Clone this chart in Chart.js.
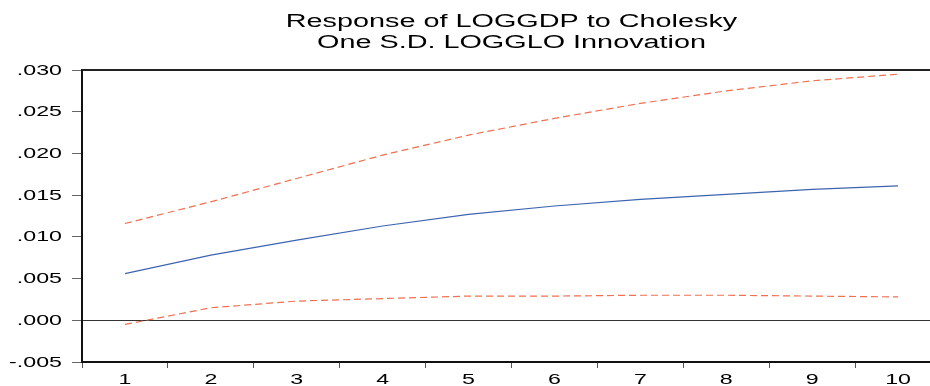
<!DOCTYPE html>
<html>
<head>
<meta charset="utf-8">
<script src="https://cdn.jsdelivr.net/npm/chart.js@4"></script>
<style>
  html, body { margin: 0; padding: 0; background: #fff; overflow: hidden; }
  #wrap { width: 930px; height: 386px; overflow: hidden; position: relative; }
  #irf { position: absolute; left: 0; top: 0; }
</style>
</head>
<body>
<div id="wrap"><canvas id="irf" width="950" height="386"></canvas></div>
<script>
const periods = ['1', '2', '3', '4', '5', '6', '7', '8', '9', '10'];
const response = [0.0056, 0.0078, 0.0096, 0.0113, 0.0127, 0.0137, 0.0145, 0.0151, 0.0157, 0.0161];
const upperBand = [0.0116, 0.0142, 0.0170, 0.0198, 0.0222, 0.0242, 0.0260, 0.0275, 0.0287, 0.0295];
const lowerBand = [-0.0005, 0.0015, 0.0023, 0.0026, 0.0029, 0.0029, 0.0030, 0.0030, 0.0029, 0.0028];
const titleLines = ['Response of LOGGDP to Cholesky', 'One S.D. LOGGLO Innovation'];

const STRETCH = 1.6;
const FONT = '"Liberation Sans", Arial, sans-serif';

function stretchedText(ctx, text, x, y, align, size) {
    ctx.save();
    ctx.translate(x, y);
    ctx.scale(STRETCH, 1);
    ctx.font = size + 'px ' + FONT;
    ctx.textAlign = align;
    ctx.fillStyle = '#000';
    ctx.fillText(text, 0, 0);
    ctx.restore();
}

function fmtTick(v) {
    if (Math.abs(v) < 1e-9) v = 0;
    return v.toFixed(3).replace('0.', '.');
}

const eviewsText = {
    id: 'eviewsText',
    afterDraw(chart) {
        const ctx = chart.ctx;
        const area = chart.chartArea;
        const xs = chart.scales.x, ys = chart.scales.y;

        // top frame line
        ctx.save();
        ctx.strokeStyle = '#222';
        ctx.lineWidth = 2;
        ctx.beginPath();
        ctx.moveTo(area.left, area.top);
        ctx.lineTo(area.right, area.top);
        ctx.stroke();
        ctx.restore();

        const cx = (area.left + area.right) / 2;
        stretchedText(ctx, titleLines[0], cx, 27, 'center', 18);
        stretchedText(ctx, titleLines[1], cx, 48, 'center', 18);

        ctx.save();
        ctx.textBaseline = 'middle';
        ys.ticks.forEach(t => {
            stretchedText(ctx, fmtTick(t.value), 62, ys.getPixelForValue(t.value) + 0.5, 'right', 14.5);
        });
        ctx.restore();

        ctx.save();
        ctx.textBaseline = 'alphabetic';
        periods.forEach((p, i) => {
            stretchedText(ctx, p, xs.getPixelForValue(i), 384, 'center', 14.5);
        });
        ctx.restore();
    }
};

new Chart(document.getElementById('irf'), {
    type: 'line',
    data: {
        labels: periods,
        datasets: [
            {
                label: 'Response',
                data: response,
                borderColor: '#3d64b0',
                borderWidth: 1.2,
                pointRadius: 0,
                tension: 0,
                fill: false
            },
            {
                label: 'Upper',
                data: upperBand,
                borderColor: '#f0704f',
                borderWidth: 1.2,
                borderDash: [7, 4],
                pointRadius: 0,
                tension: 0,
                fill: false
            },
            {
                label: 'Lower',
                data: lowerBand,
                borderColor: '#f0704f',
                borderWidth: 1.2,
                borderDash: [7, 4],
                pointRadius: 0,
                tension: 0,
                fill: false
            }
        ]
    },
    options: {
        responsive: false,
        animation: false,
        devicePixelRatio: 1,
        layout: { padding: { top: 70, right: 9, left: 0, bottom: 0 } },
        plugins: {
            legend: { display: false },
            title: { display: false },
            tooltip: { enabled: false }
        },
        scales: {
            x: {
                type: 'category',
                offset: true,
                grid: {
                    offset: true,
                    drawOnChartArea: false,
                    tickColor: '#555',
                    tickLength: 6,
                    lineWidth: 1
                },
                border: { color: '#111', width: 2 },
                ticks: { color: 'rgba(0,0,0,0)', font: { size: 10 } },
                afterFit(scale) { scale.height = 24; }
            },
            y: {
                min: -0.005,
                max: 0.03,
                ticks: {
                    stepSize: 0.005,
                    color: 'rgba(0,0,0,0)',
                    font: { size: 10 },
                    callback: v => fmtTick(v)
                },
                grid: {
                    color: c => (c.tick && Math.abs(c.tick.value) < 1e-9) ? '#333' : 'rgba(0,0,0,0)',
                    tickColor: '#666',
                    tickLength: 10,
                    lineWidth: 1
                },
                border: { color: '#111', width: 2 },
                afterFit(scale) { scale.width = 82; }
            }
        }
    },
    plugins: [eviewsText]
});
</script>
</body>
</html>
